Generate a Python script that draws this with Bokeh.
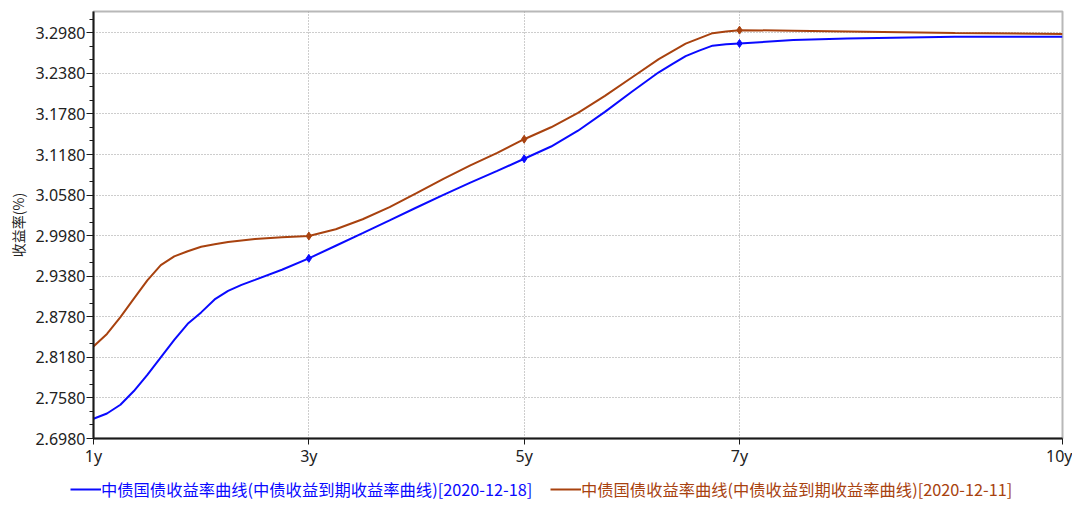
from bokeh.plotting import figure
from bokeh.models import Range1d, FixedTicker, Legend, LegendItem, NumeralTickFormatter
from bokeh.layouts import column
from bokeh.embed import file_html
from bokeh.resources import INLINE

# tenor in years
tenor = [1, 1.125, 1.25, 1.375, 1.5, 1.625, 1.75, 1.875, 2, 2.125, 2.25, 2.375, 2.5,
         2.75, 3, 3.25, 3.5, 3.75, 4, 4.25, 4.5, 4.75, 5, 5.25, 5.5, 5.75, 6, 6.25,
         6.375, 6.5, 6.625, 6.75, 6.875, 7, 7.5, 8, 9, 10]
# 中债国债收益率曲线 2020-12-18
yield_1218 = [2.7272, 2.7350, 2.7479, 2.7682, 2.7920, 2.8179, 2.8439, 2.8676, 2.8845,
              2.9037, 2.9163, 2.9252, 2.9326, 2.9476, 2.9644, 2.9831, 3.0017, 3.0205,
              3.0396, 3.0584, 3.0763, 3.0937, 3.1117, 3.1298, 3.1532, 3.1810, 3.2109,
              3.2396, 3.2516, 3.2636, 3.2716, 3.2790, 3.2809, 3.2822, 3.2874, 3.2895,
              3.2920, 3.2920]
# 中债国债收益率曲线 2020-12-11
yield_1211 = [2.8342, 2.8527, 2.8775, 2.9048, 2.9319, 2.9545, 2.9674, 2.9749, 2.9815,
              2.9852, 2.9886, 2.9910, 2.9930, 2.9955, 2.9974, 3.0074, 3.0222, 3.0401,
              3.0609, 3.0821, 3.1019, 3.1203, 3.1406, 3.1583, 3.1795, 3.2047, 3.2319,
              3.2591, 3.2705, 3.2819, 3.2898, 3.2975, 3.3000, 3.3019, 3.3012, 3.3001,
              3.2978, 3.2964]
key_tenors = [3, 5, 7]
x_ticks = [1, 3, 5, 7, 10]
x_tick_labels = ["1y", "3y", "5y", "7y", "10y"]
y_ticks = [2.698, 2.758, 2.818, 2.878, 2.938, 2.998, 3.058, 3.118, 3.178, 3.238, 3.298]
label_1218 = "中债国债收益率曲线(中债收益到期收益率曲线)[2020-12-18]"
label_1211 = "中债国债收益率曲线(中债收益到期收益率曲线)[2020-12-11]"
y_label = "收益率(%)"

BLUE = "#0a0aff"
BROWN = "#a8420f"
NUM_FONT = "Noto Sans"
CJK_FONT = "Noto Sans CJK SC"
W = 1072
NAN = float("nan")

p = figure(width=W, height=470, output_backend="svg", toolbar_location=None,
           x_range=Range1d(1, 10), y_range=Range1d(2.698, 3.3295),
           min_border_left=93, min_border_right=10, min_border_top=11, min_border_bottom=32)
p.background_fill_color = "white"
p.border_fill_color = "white"
p.outline_line_color = "#b8b8b8"
p.outline_line_width = 2

# axes
p.xaxis.ticker = FixedTicker(ticks=x_ticks, minor_ticks=[])
p.xaxis.major_label_overrides = {t: l for t, l in zip(x_ticks, x_tick_labels)}
minor = [round(2.698 + 0.02 * i, 4) for i in range(0, 32)]
p.yaxis.ticker = FixedTicker(ticks=y_ticks, minor_ticks=minor)
p.yaxis.formatter = NumeralTickFormatter(format="0.0000")
for ax in (p.xaxis[0], p.yaxis[0]):
    ax.axis_line_color = "#1a1a1a"
    ax.axis_line_width = 2
    ax.major_tick_line_color = "#1a1a1a"
    ax.minor_tick_line_color = "#1a1a1a"
    ax.major_tick_in = 0
    ax.minor_tick_in = 0
    ax.major_label_text_font = NUM_FONT
    ax.major_label_text_font_size = "16px"
    ax.major_label_text_color = "#222222"
p.xaxis.major_tick_out = 6
p.xaxis.major_label_standoff = 0
p.yaxis.major_tick_out = 7
p.yaxis.minor_tick_out = 4
p.yaxis.major_label_standoff = 1
p.yaxis.axis_label = y_label
p.yaxis.axis_label_text_font = CJK_FONT
p.yaxis.axis_label_text_font_size = "14px"
p.yaxis.axis_label_text_font_style = "normal"
p.yaxis.axis_label_text_color = "#222222"
p.yaxis.axis_label_standoff = 4

p.grid.grid_line_color = "#9a9a9a"
p.grid.grid_line_dash = "1 2"
p.grid.grid_line_width = 1

# series
p.line(tenor, yield_1218, line_color=BLUE, line_width=2)
p.line(tenor, yield_1211, line_color=BROWN, line_width=2)
k1 = [yield_1218[tenor.index(t)] for t in key_tenors]
k2 = [yield_1211[tenor.index(t)] for t in key_tenors]
p.scatter(key_tenors, k1, marker="diamond", size=8, color=BLUE)
p.scatter(key_tenors, k2, marker="diamond", size=8, color=BROWN)

# legend strip below the chart
lg = figure(width=W, height=34, output_backend="svg", toolbar_location=None,
            x_range=Range1d(0, 1), y_range=Range1d(0, 1),
            x_axis_location=None, y_axis_location=None,
            min_border_left=0, min_border_right=0, min_border_top=0, min_border_bottom=0)
lg.grid.visible = False
lg.outline_line_color = None
for fig in (p, lg):
    if "frame_align" in fig.properties():
        fig.frame_align = False
lr1 = lg.line([NAN], [NAN], line_color=BLUE, line_width=2)
lr2 = lg.line([NAN], [NAN], line_color=BROWN, line_width=2)

def make_legend(label, rend, color, loc):
    return Legend(items=[LegendItem(label=label, renderers=[rend])], location=loc,
                  orientation="horizontal", glyph_width=31, glyph_height=20,
                  label_height=20, label_standoff=0, padding=0, margin=0, spacing=0,
                  border_line_color=None, background_fill_alpha=0,
                  label_text_font=CJK_FONT, label_text_font_size="16.3px",
                  label_text_color=color)

lg.add_layout(make_legend(label_1218, lr1, BLUE, (70, 3)))
lg.add_layout(make_legend(label_1211, lr2, BROWN, (550, 3)))

layout = column(p, lg, spacing=0)
open("out.html", "w").write(file_html(layout, INLINE))
